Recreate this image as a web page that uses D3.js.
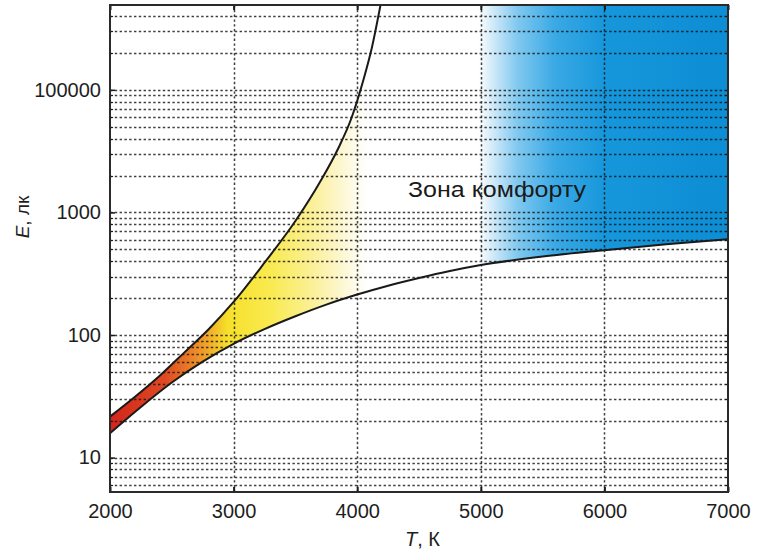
<!DOCTYPE html>
<html>
<head>
<meta charset="utf-8">
<script src="https://cdn.jsdelivr.net/npm/d3@7"></script>
<style>
  html, body { margin: 0; padding: 0; background: #fff; }
  svg { display: block; font-family: "Liberation Sans", Arial, sans-serif; }
</style>
</head>
<body>
<svg id="chart" width="763" height="551"></svg>
<script>
// ---- data ----
const xTickValues = [2000, 3000, 4000, 5000, 6000, 7000];
const xTickLabels = ["2000", "3000", "4000", "5000", "6000", "7000"];
const yTickValues = [10, 100, 1000, 10000];
const yTickLabels = ["10", "100", "1000", "100000"];

// upper bound of the comfort zone (T, K ; E, lx)
const upperT = [2000, 2200, 2400, 2600, 2800, 3000, 3250, 3500, 3700, 3850, 3950, 4050, 4120, 4190];
const upperE = [21.6, 31.2, 46.3, 71.8, 112, 186, 389, 851, 1778, 3388, 5754, 12023, 22387, 50119];
// lower bound of the comfort zone
const lowerT = [2000, 2250, 2500, 2750, 3000, 3250, 3500, 3750, 4000, 4250, 4500, 4750, 5000, 5500, 6000, 6500, 7000];
const lowerE = [15.8, 25.9, 41.0, 60.7, 84.7, 111.7, 142.2, 177, 213.8, 252.4, 291.7, 332.7, 372.4, 436.5, 492, 549.5, 605.3];

const zoneLabel = "Зона комфорту";
const xTitleItalic = "T", xTitleRest = ", К";
const yTitleItalic = "E", yTitleRest = ", лк";

// gradient colour stops along T
const gradT = [2000, 2450, 2750, 2950, 3300, 3650, 3900, 4080, 4980, 5100, 5300, 5600, 6000, 7000];
const gradC = ["#d3241c", "#df4a22", "#ee9a2a", "#f6e02a", "#f9ea50", "#fbf09a", "#fdf8d8", "#ffffff",
               "#ffffff", "#cfe9f8", "#7fc8ef", "#3aa9e5", "#1797db", "#0c8dd4"];

// ---- layout ----
const svg = d3.select("#chart");
const L = 110, R = 728, T = 5, B = 492;
const x = d3.scaleLinear().domain([2000, 7000]).range([L, R]);
const y = d3.scaleLog().domain([5.24, 49200]).range([B, T]);

const defs = svg.append("defs");
defs.append("clipPath").attr("id", "plotClip")
  .append("rect").attr("x", L).attr("y", T).attr("width", R - L).attr("height", B - T);

const upper = upperT.map((t, i) => ({t, e: upperE[i]}));
const lower = lowerT.map((t, i) => ({t, e: lowerE[i]}));
const curve = d3.curveMonotoneX;

// clip: above lower curve
const clipA = defs.append("clipPath").attr("id", "aboveLower");
clipA.append("path").attr("d",
  d3.area().curve(curve).x(d => x(d.t)).y0(T - 5).y1(d => y(d.e))(lower));
// clip: below upper curve (or right of it)
const clipB = defs.append("clipPath").attr("id", "belowUpper");
clipB.append("path").attr("d",
  d3.area().curve(curve).x(d => x(d.t)).y0(B + 5).y1(d => y(d.e))(upper));
clipB.append("rect").attr("x", x(upperT[upperT.length - 1]) - 0.5).attr("y", T - 5)
  .attr("width", R - x(upperT[upperT.length - 1]) + 5).attr("height", B - T + 10);

const grad = defs.append("linearGradient").attr("id", "zoneGrad")
  .attr("gradientUnits", "userSpaceOnUse")
  .attr("x1", x(2000)).attr("x2", x(7000)).attr("y1", 0).attr("y2", 0);
gradT.forEach((t, i) => grad.append("stop")
  .attr("offset", (t - 2000) / 5000).attr("stop-color", gradC[i]));

const plot = svg.append("g").attr("clip-path", "url(#plotClip)");
plot.append("g").attr("clip-path", "url(#aboveLower)")
  .append("rect").attr("clip-path", "url(#belowUpper)")
  .attr("x", L).attr("y", T).attr("width", R - L).attr("height", B - T)
  .attr("fill", "url(#zoneGrad)");

// ---- grid ----
const minorVals = [];
for (let dec = 1; dec <= 10000; dec *= 10) {
  for (let m = 1; m <= 9; m++) {
    const v = m * dec;
    if (v >= 5.24 && v <= 49200) minorVals.push(v);
  }
}
const grid = plot.append("g").attr("stroke", "#111").attr("stroke-width", 1.5)
  .attr("stroke-dasharray", "2.4,2.4").attr("opacity", 0.8);
grid.selectAll("line.h").data(minorVals).join("line").attr("class", "h")
  .attr("x1", L).attr("x2", R)
  .attr("y1", d => Math.round(y(d)) + 0.5).attr("y2", d => Math.round(y(d)) + 0.5);
grid.selectAll("line.v").data(xTickValues.slice(1, -1)).join("line").attr("class", "v")
  .attr("y1", T).attr("y2", B)
  .attr("x1", d => Math.round(x(d)) + 0.5).attr("x2", d => Math.round(x(d)) + 0.5);

// ---- curves ----
const line = d3.line().curve(curve).x(d => x(d.t)).y(d => y(d.e));
plot.append("path").attr("d", line(upper)).attr("fill", "none")
  .attr("stroke", "#1a1a1a").attr("stroke-width", 2);
plot.append("path").attr("d", line(lower)).attr("fill", "none")
  .attr("stroke", "#1a1a1a").attr("stroke-width", 2);

// ---- axes (ticks inside) ----
const xAxisB = d3.axisBottom(x).tickValues(xTickValues).tickSizeInner(-5).tickSizeOuter(0)
  .tickPadding(12).tickFormat((d, i) => xTickLabels[i]);
const gx = svg.append("g").attr("transform", `translate(0,${B})`).call(xAxisB);
gx.select(".domain").remove();
gx.selectAll("text").attr("font-size", 20).attr("fill", "#1e1e1e")
  .attr("font-family", "'Liberation Sans', Arial, sans-serif");
gx.selectAll("line").attr("stroke", "#1a1a1a").attr("stroke-width", 2);

const xAxisT = d3.axisTop(x).tickValues(xTickValues).tickSizeInner(-5).tickSizeOuter(0).tickFormat("");
const gxt = svg.append("g").attr("transform", `translate(0,${T})`).call(xAxisT);
gxt.select(".domain").remove();
gxt.selectAll("line").attr("stroke", "#1a1a1a").attr("stroke-width", 2);

const yAxis = d3.axisLeft(y).tickValues(yTickValues).tickSizeInner(-5).tickSizeOuter(0)
  .tickPadding(9).tickFormat((d, i) => yTickLabels[i]);
const gy = svg.append("g").attr("transform", `translate(${L},0)`).call(yAxis);
gy.select(".domain").remove();
gy.selectAll("text").attr("font-size", 20).attr("fill", "#1e1e1e")
  .attr("font-family", "'Liberation Sans', Arial, sans-serif");
gy.selectAll("line").attr("stroke", "#1a1a1a").attr("stroke-width", 1.5);

// minor ticks left/right
const minorTicks = svg.append("g").attr("stroke", "#1a1a1a").attr("stroke-width", 1);
minorTicks.selectAll("line.l").data(minorVals).join("line").attr("class", "l")
  .attr("x1", L).attr("x2", L + 3)
  .attr("y1", d => Math.round(y(d)) + 0.5).attr("y2", d => Math.round(y(d)) + 0.5);
minorTicks.selectAll("line.r").data(minorVals).join("line").attr("class", "r")
  .attr("x1", R - 3).attr("x2", R)
  .attr("y1", d => Math.round(y(d)) + 0.5).attr("y2", d => Math.round(y(d)) + 0.5);

// frame
svg.append("rect").attr("x", L).attr("y", T).attr("width", R - L).attr("height", B - T)
  .attr("fill", "none").attr("stroke", "#2a2a2a").attr("stroke-width", 2);

// ---- texts ----
svg.append("text").attr("x", 408).attr("y", 197)
  .attr("font-size", 22).attr("fill", "#1a1a1a")
  .attr("textLength", 178).attr("lengthAdjust", "spacingAndGlyphs")
  .text(zoneLabel);

const xt = svg.append("text").attr("x", 405).attr("y", 546)
  .attr("font-size", 20).attr("fill", "#1e1e1e");
xt.append("tspan").attr("font-style", "italic").text(xTitleItalic);
xt.append("tspan").text(xTitleRest);

const yt = svg.append("text").attr("transform", "translate(28.5,217) rotate(-90)")
  .attr("text-anchor", "middle").attr("font-size", 19).attr("fill", "#1e1e1e");
yt.append("tspan").attr("font-style", "italic").text(yTitleItalic);
yt.append("tspan").text(yTitleRest);
</script>
</body>
</html>
